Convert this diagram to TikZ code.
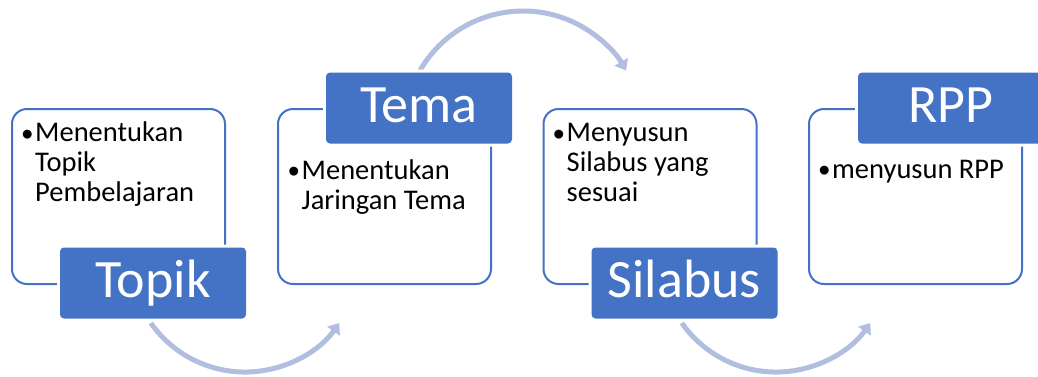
\documentclass[tikz,border=0pt]{standalone}
\usepackage{fontspec}
\setmainfont{Carlito}
\newfontfamily\bulletfont{Liberation Sans}
\usetikzlibrary{arrows.meta}
\definecolor{hblue}{RGB}{68,114,196}
\definecolor{arrowc}{RGB}{177,190,223}
\newcommand{\bulletmark}{\makebox[13.5pt][l]{\raisebox{-3.5pt}{\scalebox{1.15}{\bulletfont •}}}}
\begin{document}
\begin{tikzpicture}[x=1pt,y=-1pt,
  panel/.style={draw=hblue, line width=2pt, fill=white, rounded corners=15pt,
    anchor=north west, minimum width=213pt, minimum height=175pt, inner sep=0pt},
  header/.style={fill=hblue, rounded corners=4pt, preaction={draw=white, line width=6pt},
    minimum width=186pt, minimum height=71pt, inner sep=0pt, text=white,
    font=\fontsize{54}{60}\selectfont, text height=36pt, text depth=7pt},
  bullettext/.style={anchor=base west, inner sep=0pt, align=left,
    font=\fontsize{28.5}{30.2}\selectfont},
  flow/.style={draw=arrowc, line width=5pt, -{Triangle[length=10pt,width=15pt]}}
]
\useasboundingbox (0,0) rectangle (1038,376);
\clip (0,0) rectangle (1038,376);
% arrows
\coordinate (a1s) at (150.8,323);
\coordinate (a2s) at (420,70.5);
\coordinate (a3s) at (681.8,323);
\draw[flow] (a1s) arc[start angle=145, end angle=35, radius=115];
\draw[flow] (a2s) arc[start angle=-150, end angle=-30, radius=119];
\draw[flow] (a3s) arc[start angle=145, end angle=35, radius=115];
% panels
\node[panel] (b1) at (11,108) {};
\node[panel] (b2) at (277,108) {};
\node[panel] (b3) at (542.5,108) {};
\node[panel] (b4) at (808,108) {};
% texts
\node[bullettext] (t1) at (21.5,141.5) {\bulletmark\parbox[t]{180pt}{Menentukan\\Topik\\Pembelajaran}};
\node[bullettext] (t2) at (288,179) {\bulletmark\parbox[t]{180pt}{Menentukan\\Jaringan Tema}};
\node[bullettext] (t3) at (553,141.5) {\bulletmark\parbox[t]{180pt}{Menyusun\\Silabus yang\\sesuai}};
\node[bullettext] (t4) at (818.5,178) {\bulletmark\parbox[t]{180pt}{menyusun RPP}};
% headers
\node[header] (h1) at (153,283) {Topik};
\node[header] (h2) at (419,108) {Tema};
\node[header] (h3) at (684.5,283) {Silabus};
\node[header] (h4) at (951,108) {RPP};
\end{tikzpicture}
\end{document}
